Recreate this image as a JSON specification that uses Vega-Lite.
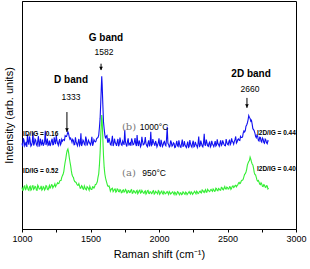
{
  "$schema": "https://vega.github.io/schema/vega-lite/v6.json",
  "width": 274,
  "height": 228,
  "autosize": {"type": "none"},
  "padding": {"left": 22, "top": 1, "right": 14, "bottom": 40},
  "background": "white",
  "config": {
    "view": {"stroke": "#000", "strokeWidth": 1},
    "font": "Liberation Sans",
    "axis": {"domainColor": "#000", "tickColor": "#000", "labelColor": "#000", "titleColor": "#000", "grid": false, "labelFont": "Liberation Sans", "titleFont": "Liberation Sans"}
  },
  "encoding": {
    "x": {"field": "x", "type": "quantitative", "scale": {"domain": [1000, 3000], "nice": false, "zero": false},
      "axis": {"values": [1000, 1250, 1500, 1750, 2000, 2250, 2500, 2750, 3000], "format": "d", "labelExpr": "datum.value % 500 === 0 ? datum.label : ''", "tickSize": 3, "labelPadding": 2, "labelFontSize": 9, "title": "Raman shift (cm⁻¹)", "titleFontSize": 11, "titleFontWeight": "normal", "titlePadding": 5, "labelFlush": false}},
    "y": {"field": "y", "type": "quantitative", "scale": {"domain": [0, 100], "nice": false, "zero": false},
      "axis": {"ticks": false, "labels": false, "title": "Intensity (arb. units)", "titleFontSize": 11, "titleFontWeight": "normal", "titlePadding": 8}}
  },
  "layer": [
    {
      "data": {"values": [
        {"x":1000,"b":37.5,"g":18.2},{"x":1010,"b":39.8,"g":17.1},{"x":1020,"b":36.4,"g":18.9},{"x":1030,"b":38.2,"g":17.6},{"x":1040,"b":41.5,"g":18.4},
        {"x":1050,"b":37.0,"g":16.9},{"x":1060,"b":38.6,"g":18.8},{"x":1070,"b":36.8,"g":17.3},{"x":1080,"b":42.3,"g":19.0},{"x":1090,"b":37.4,"g":17.8},
        {"x":1100,"b":38.9,"g":18.5},{"x":1110,"b":36.5,"g":17.0},{"x":1120,"b":40.7,"g":18.7},{"x":1130,"b":37.8,"g":17.5},{"x":1140,"b":36.9,"g":18.9},
        {"x":1150,"b":39.2,"g":17.4},{"x":1160,"b":37.3,"g":18.3},{"x":1170,"b":43.1,"g":17.6},{"x":1180,"b":37.9,"g":18.8},{"x":1190,"b":36.7,"g":17.2},
        {"x":1200,"b":38.8,"g":19.1},{"x":1210,"b":37.2,"g":18.4},{"x":1220,"b":39.6,"g":19.3},{"x":1230,"b":37.0,"g":18.6},{"x":1240,"b":38.4,"g":19.8},
        {"x":1250,"b":41.0,"g":19.2},{"x":1260,"b":37.6,"g":20.3},{"x":1270,"b":38.3,"g":20.0},{"x":1280,"b":36.9,"g":21.3},{"x":1290,"b":39.3,"g":22.6},
        {"x":1300,"b":39.1,"g":24.0},{"x":1310,"b":38.9,"g":27.4},{"x":1320,"b":40.6,"g":31.0},{"x":1330,"b":41.5,"g":34.5},{"x":1340,"b":41.8,"g":33.6},
        {"x":1350,"b":39.4,"g":29.5},{"x":1360,"b":39.0,"g":25.6},{"x":1370,"b":39.3,"g":23.0},{"x":1380,"b":36.9,"g":21.5},{"x":1390,"b":40.2,"g":20.6},
        {"x":1400,"b":37.3,"g":19.7},{"x":1410,"b":38.1,"g":19.2},{"x":1420,"b":36.6,"g":18.8},{"x":1430,"b":42.0,"g":18.0},{"x":1440,"b":37.4,"g":18.6},
        {"x":1450,"b":38.5,"g":17.4},{"x":1460,"b":36.8,"g":18.1},{"x":1470,"b":39.3,"g":17.2},{"x":1480,"b":37.6,"g":18.3},{"x":1490,"b":38.2,"g":17.0},
        {"x":1500,"b":36.9,"g":17.9},{"x":1510,"b":40.4,"g":17.3},{"x":1520,"b":37.5,"g":18.4},{"x":1530,"b":38.6,"g":18.5},{"x":1540,"b":38.5,"g":19.5},
        {"x":1550,"b":39.9,"g":20.8},{"x":1560,"b":41.2,"g":24.2},{"x":1570,"b":48.4,"g":33.3},{"x":1575,"b":55.7,"g":41.2},{"x":1582,"b":67.0,"g":50.0},
        {"x":1585,"b":63.5,"g":47.6},{"x":1590,"b":54.7,"g":39.8},{"x":1595,"b":46.9,"g":32.0},{"x":1600,"b":43.7,"g":26.9},{"x":1610,"b":39.7,"g":22.3},
        {"x":1620,"b":41.0,"g":20.0},{"x":1630,"b":38.1,"g":18.7},{"x":1640,"b":38.6,"g":18.0},{"x":1650,"b":36.8,"g":17.3},{"x":1660,"b":40.9,"g":17.9},
        {"x":1670,"b":37.3,"g":16.8},{"x":1680,"b":38.0,"g":17.6},{"x":1690,"b":36.5,"g":16.5},{"x":1700,"b":39.5,"g":17.4},{"x":1710,"b":37.2,"g":16.3},
        {"x":1720,"b":38.3,"g":17.1},{"x":1730,"b":36.7,"g":16.0},{"x":1740,"b":37.9,"g":17.2},{"x":1750,"b":43.5,"g":16.4},{"x":1760,"b":37.0,"g":17.0},
        {"x":1770,"b":38.4,"g":15.9},{"x":1780,"b":36.6,"g":16.8},{"x":1790,"b":37.8,"g":16.1},{"x":1800,"b":39.7,"g":17.3},{"x":1810,"b":36.9,"g":15.8},
        {"x":1820,"b":38.1,"g":16.6},{"x":1830,"b":37.3,"g":15.7},{"x":1840,"b":41.2,"g":16.9},{"x":1850,"b":36.4,"g":16.0},{"x":1860,"b":37.9,"g":17.1},
        {"x":1870,"b":36.8,"g":15.9},{"x":1880,"b":38.5,"g":16.4},{"x":1890,"b":37.1,"g":15.6},{"x":1900,"b":40.3,"g":16.7},{"x":1910,"b":36.6,"g":15.8},
        {"x":1920,"b":37.8,"g":16.9},{"x":1930,"b":36.2,"g":15.5},{"x":1940,"b":42.6,"g":16.3},{"x":1950,"b":37.0,"g":15.7},{"x":1960,"b":38.2,"g":16.8},
        {"x":1970,"b":36.5,"g":15.6},{"x":1980,"b":37.6,"g":16.2},{"x":1990,"b":36.9,"g":15.4},{"x":2000,"b":39.8,"g":16.5},{"x":2010,"b":36.3,"g":15.7},
        {"x":2020,"b":37.7,"g":16.6},{"x":2030,"b":36.8,"g":15.3},{"x":2040,"b":38.4,"g":16.1},{"x":2050,"b":36.5,"g":15.5},{"x":2060,"b":44.8,"g":16.4},
        {"x":2070,"b":37.1,"g":15.2},{"x":2080,"b":36.4,"g":16.0},{"x":2090,"b":38.0,"g":15.6},{"x":2100,"b":36.7,"g":16.3},{"x":2110,"b":37.5,"g":15.1},
        {"x":2120,"b":35.9,"g":15.9},{"x":2130,"b":38.6,"g":15.4},{"x":2140,"b":36.2,"g":16.2},{"x":2150,"b":37.3,"g":15.0},{"x":2160,"b":35.8,"g":15.8},
        {"x":2170,"b":39.2,"g":15.3},{"x":2180,"b":36.4,"g":16.1},{"x":2190,"b":37.0,"g":15.2},{"x":2200,"b":35.7,"g":15.9},{"x":2210,"b":38.3,"g":15.5},
        {"x":2220,"b":36.1,"g":16.4},{"x":2230,"b":37.4,"g":15.3},{"x":2240,"b":35.9,"g":16.0},{"x":2250,"b":38.7,"g":15.6},{"x":2260,"b":36.3,"g":16.5},
        {"x":2270,"b":37.2,"g":15.4},{"x":2280,"b":35.8,"g":16.2},{"x":2290,"b":40.6,"g":15.7},{"x":2300,"b":36.5,"g":16.6},{"x":2310,"b":37.6,"g":15.8},
        {"x":2320,"b":36.0,"g":16.9},{"x":2330,"b":41.8,"g":16.0},{"x":2340,"b":36.7,"g":17.3},{"x":2350,"b":37.9,"g":16.2},{"x":2360,"b":36.2,"g":17.0},
        {"x":2370,"b":38.1,"g":16.4},{"x":2380,"b":36.6,"g":17.4},{"x":2390,"b":37.4,"g":16.5},{"x":2400,"b":36.1,"g":17.2},{"x":2410,"b":38.6,"g":16.6},
        {"x":2420,"b":36.8,"g":17.7},{"x":2430,"b":37.5,"g":16.8},{"x":2440,"b":36.3,"g":17.5},{"x":2450,"b":38.9,"g":17.0},{"x":2460,"b":37.0,"g":18.1},
        {"x":2470,"b":37.8,"g":17.2},{"x":2480,"b":36.6,"g":18.6},{"x":2490,"b":39.4,"g":17.5},{"x":2500,"b":37.2,"g":18.2},{"x":2510,"b":38.3,"g":17.6},
        {"x":2520,"b":37.0,"g":18.4},{"x":2530,"b":39.8,"g":17.9},{"x":2540,"b":38.1,"g":18.9},{"x":2550,"b":38.4,"g":18.5},{"x":2560,"b":40.6,"g":19.2},
        {"x":2570,"b":38.2,"g":19.0},{"x":2580,"b":39.5,"g":20.1},{"x":2590,"b":38.8,"g":19.9},{"x":2600,"b":40.1,"g":21.0},{"x":2610,"b":40.4,"g":21.4},
        {"x":2620,"b":43.0,"g":23.0},{"x":2630,"b":43.2,"g":24.3},{"x":2640,"b":45.6,"g":26.2},{"x":2650,"b":47.8,"g":28.9},{"x":2660,"b":48.9,"g":30.0},
        {"x":2670,"b":47.3,"g":30.6},{"x":2680,"b":46.0,"g":28.5},{"x":2690,"b":43.6,"g":26.7},{"x":2700,"b":42.1,"g":23.9},{"x":2710,"b":40.0,"g":22.6},
        {"x":2720,"b":40.8,"g":21.0},{"x":2730,"b":38.6,"g":20.6},{"x":2740,"b":40.2,"g":19.5},{"x":2750,"b":38.1,"g":19.8},{"x":2760,"b":39.4,"g":18.6},
        {"x":2770,"b":37.6,"g":19.3},{"x":2780,"b":39.0,"g":18.2},{"x":2790,"b":37.4,"g":18.9},{"x":2800,"b":38.5,"g":18.0},
        {"x":1005,"b":36.2,"g":17.0},{"x":1015,"b":38.9,"g":18.6},{"x":1025,"b":37.1,"g":17.3},{"x":1035,"b":36.0,"g":19.1},{"x":1045,"b":38.4,"g":17.2},
        {"x":1055,"b":40.6,"g":18.5},{"x":1065,"b":36.3,"g":17.0},{"x":1075,"b":38.1,"g":18.9},{"x":1085,"b":36.6,"g":17.4},{"x":1095,"b":39.4,"g":18.7},
        {"x":1105,"b":37.0,"g":17.1},{"x":1115,"b":38.7,"g":19.2},{"x":1125,"b":36.1,"g":17.6},{"x":1135,"b":39.6,"g":18.0},{"x":1145,"b":37.4,"g":17.0},
        {"x":1155,"b":36.5,"g":18.6},{"x":1165,"b":38.4,"g":17.1},{"x":1175,"b":36.8,"g":19.0},{"x":1185,"b":39.7,"g":17.5},{"x":1195,"b":37.1,"g":18.1},
        {"x":1205,"b":36.4,"g":17.9},{"x":1215,"b":38.6,"g":19.4},{"x":1225,"b":36.9,"g":18.0},{"x":1235,"b":40.2,"g":19.0},{"x":1245,"b":37.2,"g":18.6},
        {"x":1255,"b":38.9,"g":19.6},{"x":1265,"b":36.7,"g":19.9},{"x":1275,"b":39.4,"g":21.0},{"x":1285,"b":37.5,"g":21.3},{"x":1295,"b":38.5,"g":23.4},
        {"x":1305,"b":39.2,"g":25.2},{"x":1315,"b":40.9,"g":29.4},{"x":1325,"b":40.6,"g":33.1},{"x":1335,"b":42.6,"g":35.1},{"x":1345,"b":40.3,"g":31.4},
        {"x":1355,"b":39.9,"g":27.8},{"x":1365,"b":38.0,"g":23.9},{"x":1375,"b":38.8,"g":22.7},{"x":1385,"b":37.0,"g":20.8},{"x":1395,"b":38.3,"g":20.4},
        {"x":1405,"b":36.5,"g":19.2},{"x":1415,"b":39.5,"g":19.9},{"x":1425,"b":37.3,"g":17.9},{"x":1435,"b":36.4,"g":19.0},{"x":1445,"b":39.0,"g":17.6},
        {"x":1455,"b":37.2,"g":18.9},{"x":1465,"b":40.5,"g":17.5},{"x":1475,"b":36.6,"g":18.6},{"x":1485,"b":38.9,"g":17.7},{"x":1495,"b":37.5,"g":18.7},
        {"x":1505,"b":38.2,"g":17.3},{"x":1515,"b":36.5,"g":18.5},{"x":1525,"b":39.2,"g":17.9},{"x":1535,"b":38.2,"g":19.5},{"x":1545,"b":39.7,"g":20.1},
        {"x":1555,"b":40.2,"g":22.8},{"x":1565,"b":44.4,"g":28.0},{"x":1605,"b":41.2,"g":24.0},{"x":1615,"b":40.7,"g":21.1},{"x":1625,"b":38.1,"g":18.9},
        {"x":1635,"b":39.9,"g":18.9},{"x":1645,"b":37.1,"g":16.6},{"x":1655,"b":38.8,"g":17.7},{"x":1665,"b":36.4,"g":16.4},{"x":1675,"b":39.6,"g":17.5},
        {"x":1685,"b":37.4,"g":16.2},{"x":1695,"b":38.2,"g":17.6},{"x":1705,"b":36.3,"g":16.4},{"x":1715,"b":40.1,"g":17.3},{"x":1725,"b":37.0,"g":15.9},
        {"x":1735,"b":38.6,"g":17.0},{"x":1745,"b":36.9,"g":16.2},{"x":1755,"b":38.3,"g":17.4},{"x":1765,"b":36.2,"g":15.8},{"x":1775,"b":39.8,"g":16.9},
        {"x":1785,"b":37.4,"g":16.0},{"x":1795,"b":36.5,"g":17.1},{"x":1805,"b":38.7,"g":15.6},{"x":1815,"b":37.1,"g":16.8},{"x":1825,"b":39.9,"g":15.9},
        {"x":1835,"b":36.4,"g":16.6},{"x":1845,"b":37.6,"g":15.5},{"x":1855,"b":38.8,"g":16.8},{"x":1865,"b":36.1,"g":15.7},{"x":1875,"b":40.4,"g":16.9},
        {"x":1885,"b":36.9,"g":15.8},{"x":1895,"b":38.0,"g":16.4},{"x":1905,"b":37.4,"g":15.3},{"x":1915,"b":36.1,"g":16.7},{"x":1925,"b":38.9,"g":15.6},
        {"x":1935,"b":37.2,"g":16.4},{"x":1945,"b":36.6,"g":15.5},{"x":1955,"b":39.4,"g":16.6},{"x":1965,"b":37.3,"g":15.3},{"x":1975,"b":38.6,"g":16.5},
        {"x":1985,"b":36.0,"g":15.9},{"x":1995,"b":37.9,"g":16.8},{"x":2005,"b":36.6,"g":15.2},{"x":2015,"b":39.1,"g":16.3},{"x":2025,"b":36.2,"g":15.6},
        {"x":2035,"b":38.0,"g":16.5},{"x":2045,"b":36.9,"g":15.4},{"x":2055,"b":39.5,"g":16.2},{"x":2065,"b":37.6,"g":15.8},{"x":2075,"b":36.0,"g":16.4},
        {"x":2085,"b":38.8,"g":15.3},{"x":2095,"b":36.3,"g":16.1},{"x":2105,"b":37.8,"g":15.7},{"x":2115,"b":35.7,"g":16.2},{"x":2125,"b":37.3,"g":15.0},
        {"x":2135,"b":36.5,"g":16.4},{"x":2145,"b":38.9,"g":15.5},{"x":2155,"b":36.0,"g":15.9},{"x":2165,"b":37.6,"g":15.1},{"x":2175,"b":36.3,"g":16.3},
        {"x":2185,"b":38.5,"g":15.4},{"x":2195,"b":36.2,"g":16.2},{"x":2205,"b":37.1,"g":15.1},{"x":2215,"b":35.8,"g":16.0},{"x":2225,"b":39.0,"g":15.7},
        {"x":2235,"b":36.4,"g":16.3},{"x":2245,"b":37.7,"g":15.2},{"x":2255,"b":36.0,"g":16.1},{"x":2265,"b":38.2,"g":15.9},{"x":2275,"b":36.6,"g":16.6},
        {"x":2285,"b":37.5,"g":15.5},{"x":2295,"b":36.2,"g":16.4},{"x":2305,"b":38.8,"g":16.0},{"x":2315,"b":36.4,"g":17.1},{"x":2325,"b":37.8,"g":16.3},
        {"x":2335,"b":36.9,"g":16.8},{"x":2345,"b":39.2,"g":16.1},{"x":2355,"b":36.5,"g":17.4},{"x":2365,"b":37.6,"g":16.6},{"x":2375,"b":36.0,"g":17.1},
        {"x":2385,"b":38.7,"g":16.9},{"x":2395,"b":36.8,"g":17.6},{"x":2405,"b":37.2,"g":16.5},{"x":2415,"b":36.4,"g":17.9},{"x":2425,"b":39.3,"g":16.9},
        {"x":2435,"b":36.9,"g":17.8},{"x":2445,"b":37.7,"g":17.1},{"x":2455,"b":36.6,"g":18.3},{"x":2465,"b":38.9,"g":17.4},{"x":2475,"b":37.1,"g":18.0},
        {"x":2485,"b":36.5,"g":17.6},{"x":2495,"b":38.0,"g":18.4},{"x":2505,"b":36.9,"g":17.5},{"x":2515,"b":39.2,"g":18.5},{"x":2525,"b":37.6,"g":17.4},
        {"x":2535,"b":38.4,"g":18.7},{"x":2545,"b":37.2,"g":18.2},{"x":2555,"b":39.3,"g":19.0},{"x":2565,"b":37.7,"g":18.5},{"x":2575,"b":39.2,"g":19.3},
        {"x":2585,"b":38.9,"g":20.4},{"x":2595,"b":40.6,"g":20.1},{"x":2605,"b":40.1,"g":21.4},{"x":2615,"b":42.2,"g":21.9},{"x":2625,"b":42.6,"g":24.0},
        {"x":2635,"b":45.1,"g":25.0},{"x":2645,"b":46.5,"g":28.0},{"x":2655,"b":49.7,"g":29.6},{"x":2665,"b":48.5,"g":31.5},{"x":2675,"b":47.7,"g":29.4},
        {"x":2685,"b":44.0,"g":28.1},{"x":2695,"b":43.1,"g":24.8},{"x":2705,"b":40.6,"g":23.7},{"x":2715,"b":41.2,"g":21.5},{"x":2725,"b":38.9,"g":21.3},
        {"x":2735,"b":40.3,"g":19.7},{"x":2745,"b":38.5,"g":20.3},{"x":2755,"b":39.9,"g":18.7},{"x":2765,"b":37.9,"g":19.5},{"x":2775,"b":39.4,"g":18.4},
        {"x":2785,"b":37.8,"g":19.0},{"x":2795,"b":38.7,"g":17.6}
      ]},
      "transform": [{"fold": ["g", "b"], "as": ["s", "y"]}],
      "mark": {"type": "line", "strokeWidth": 1.1},
      "encoding": {
        "color": {"field": "s", "type": "nominal", "scale": {"domain": ["b", "g"], "range": ["#1010f0", "#33ee33"]}, "legend": null},
        "detail": {"field": "s"}
      }
    },
    {
      "data": {"values": [
        {"x": 1328, "y": 51.3, "y2": 42.5},
        {"x": 1577, "y": 72.5, "y2": 69.7},
        {"x": 2642, "y": 57.5, "y2": 53.1}
      ]},
      "mark": {"type": "rule", "color": "#000", "strokeWidth": 1},
      "encoding": {"y2": {"field": "y2"}}
    },
    {
      "data": {"values": [
        {"x": 1328, "y": 43.5},
        {"x": 1577, "y": 70.5},
        {"x": 2642, "y": 54.0}
      ]},
      "mark": {"type": "point", "shape": "triangle-down", "filled": true, "color": "#000", "size": 14, "opacity": 1},
      "encoding": {}
    },
    {
      "data": {"values": [
        {"x": 1358, "y": 65.4, "t": "D band"},
        {"x": 1613, "y": 83.8, "t": "G band"},
        {"x": 2672, "y": 68.0, "t": "2D band"}
      ]},
      "mark": {"type": "text", "fontSize": 10, "fontWeight": "bold", "color": "#000", "align": "center", "baseline": "middle"},
      "encoding": {"text": {"field": "t"}}
    },
    {
      "data": {"values": [
        {"x": 1358, "y": 57.9, "t": "1333"},
        {"x": 1599, "y": 77.6, "t": "1582"},
        {"x": 2664, "y": 61.4, "t": "2660"}
      ]},
      "mark": {"type": "text", "fontSize": 8.5, "color": "#000", "align": "center", "baseline": "middle"},
      "encoding": {"text": {"field": "t"}}
    },
    {
      "data": {"values": [
        {"x": 1008, "y": 41.7, "t": "ID/IG = 0.16"},
        {"x": 1008, "y": 25.4, "t": "ID/IG = 0.52"},
        {"x": 2715, "y": 42.1, "t": "I2D/IG = 0.44"},
        {"x": 2715, "y": 26.3, "t": "I2D/IG = 0.40"}
      ]},
      "mark": {"type": "text", "fontSize": 6.5, "fontWeight": "bold", "color": "#000", "align": "left", "baseline": "middle"},
      "encoding": {"text": {"field": "t"}}
    },
    {
      "data": {"values": [
        {"x": 1781, "y": 44.7, "t": "(b)"},
        {"x": 1781, "y": 24.6, "t": "(a)"}
      ]},
      "mark": {"type": "text", "fontSize": 10, "font": "DejaVu Serif", "color": "#777777", "align": "center", "baseline": "middle"},
      "encoding": {"text": {"field": "t"}}
    },
    {
      "data": {"values": [
        {"x": 1964, "y": 44.7, "t": "1000°C"},
        {"x": 1964, "y": 24.6, "t": "950°C"}
      ]},
      "mark": {"type": "text", "fontSize": 8.5, "color": "#000", "align": "center", "baseline": "middle"},
      "encoding": {"text": {"field": "t"}}
    }
  ]
}
